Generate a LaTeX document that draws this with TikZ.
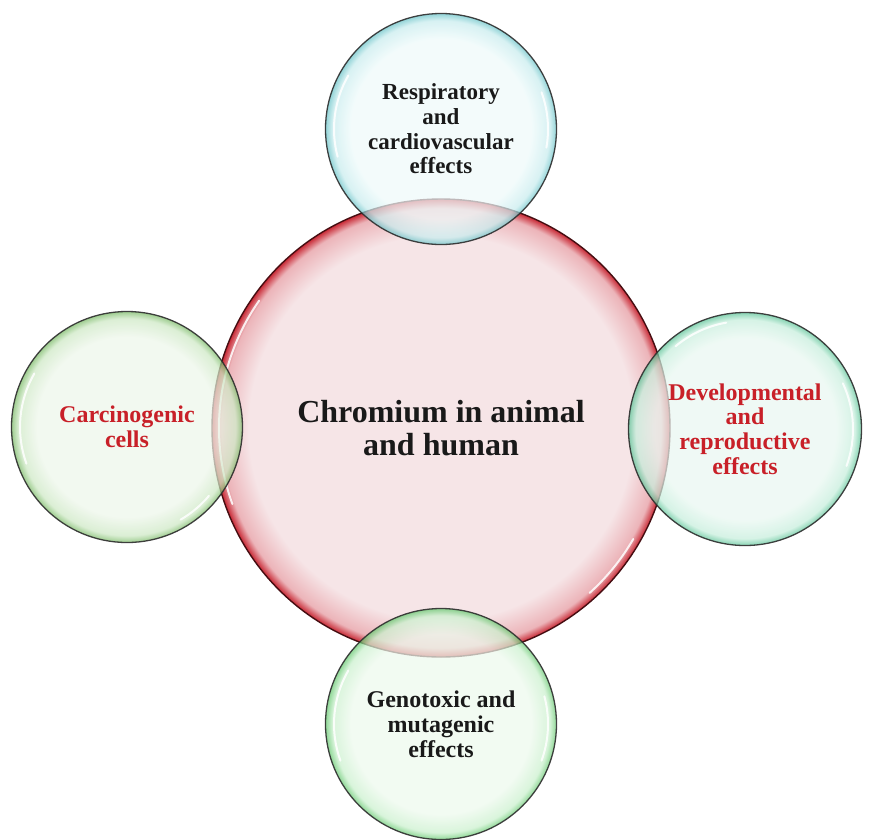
\documentclass[tikz,border=0pt]{standalone}
\usepackage{fontspec}
\setmainfont{Liberation Serif}
\definecolor{rIn}{RGB}{246,229,231}
\definecolor{rMid}{RGB}{236,180,185}
\definecolor{rOut}{RGB}{200,40,52}
\definecolor{cIn}{RGB}{238,250,250}
\definecolor{cMid}{RGB}{200,236,238}
\definecolor{cOut}{RGB}{105,195,200}
\definecolor{gIn}{RGB}{237,246,234}
\definecolor{gMid}{RGB}{205,232,196}
\definecolor{gOut}{RGB}{120,185,100}
\definecolor{mIn}{RGB}{233,247,241}
\definecolor{mMid}{RGB}{198,238,220}
\definecolor{mOut}{RGB}{90,195,150}
\definecolor{bIn}{RGB}{237,249,237}
\definecolor{bMid}{RGB}{202,240,205}
\definecolor{bOut}{RGB}{100,200,110}
\definecolor{txtRed}{RGB}{200,32,40}
\definecolor{txtDark}{RGB}{25,25,25}
\definecolor{edgeDark}{RGB}{45,45,45}
\pgfdeclareradialshading{bubRed}{\pgfpoint{0bp}{0bp}}{color(0bp)=(rIn); color(21bp)=(rIn); color(24bp)=(rMid); color(25bp)=(rOut); color(50bp)=(rOut)}
\pgfdeclareradialshading{bubCyan}{\pgfpoint{0bp}{0bp}}{color(0bp)=(cIn); color(19.5bp)=(cIn); color(23.5bp)=(cMid); color(25bp)=(cOut); color(50bp)=(cOut)}
\pgfdeclareradialshading{bubGreen}{\pgfpoint{0bp}{0bp}}{color(0bp)=(gIn); color(19.5bp)=(gIn); color(23.5bp)=(gMid); color(25bp)=(gOut); color(50bp)=(gOut)}
\pgfdeclareradialshading{bubMint}{\pgfpoint{0bp}{0bp}}{color(0bp)=(mIn); color(19.5bp)=(mIn); color(23.5bp)=(mMid); color(25bp)=(mOut); color(50bp)=(mOut)}
\pgfdeclareradialshading{bubLeaf}{\pgfpoint{0bp}{0bp}}{color(0bp)=(bIn); color(19.5bp)=(bIn); color(23.5bp)=(bMid); color(25bp)=(bOut); color(50bp)=(bOut)}
\begin{document}
\begin{tikzpicture}[x=1pt,y=1pt,
  bigbubble/.style={circle, inner sep=0pt, minimum size=458pt, shading=bubRed,
    draw=rOut!35!black, line width=1.4pt, align=center, text=txtDark,
    font=\fontsize{32}{33.5}\selectfont\bfseries},
  smallbubble/.style={circle, inner sep=0pt, minimum size=231pt, fill opacity=0.72,
    text opacity=1, draw=edgeDark, draw opacity=0.9, line width=1.3pt, align=center,
    font=\fontsize{24}{24.8}\selectfont\bfseries},
  gloss/.style={white, line width=2pt, line cap=round, opacity=0.85}]
\useasboundingbox (0,0) rectangle (876,-839);
\node[bigbubble] (main) at (441,-428) {Chromium in animal\\and human};
\draw[gloss] (main.center) ++(145:222) arc[start angle=145, end angle=200, radius=222];
\draw[gloss] (main.center) ++(-48:222) arc[start angle=-48, end angle=-30, radius=222];
\node[smallbubble, shading=bubCyan, text=txtDark,
  font=\fontsize{23}{24.6}\selectfont\bfseries] (top) at (441,-129)
  {Respiratory\\and\\cardiovascular\\effects};
\node[smallbubble, shading=bubGreen, text=txtRed] (left) at (127,-427)
  {Carcinogenic\\cells};
\node[smallbubble, shading=bubMint, text=txtRed, minimum size=233pt] (right) at (745,-429)
  {Developmental\\and\\reproductive\\effects};
\node[smallbubble, shading=bubLeaf, text=txtDark] (bottom) at (441,-724)
  {Genotoxic and\\mutagenic\\effects};
\draw[gloss] (top.center) ++(150:107) arc[start angle=150, end angle=195, radius=107];
\draw[gloss] (top.center) ++(-10:107) arc[start angle=-10, end angle=20, radius=107];
\draw[gloss] (left.center) ++(150:107) arc[start angle=150, end angle=200, radius=107];
\draw[gloss] (left.center) ++(-60:107) arc[start angle=-60, end angle=-40, radius=107];
\draw[gloss] (right.center) ++(-20:108) arc[start angle=-20, end angle=25, radius=108];
\draw[gloss] (right.center) ++(100:108) arc[start angle=100, end angle=130, radius=108];
\draw[gloss] (bottom.center) ++(150:107) arc[start angle=150, end angle=200, radius=107];
\draw[gloss] (bottom.center) ++(-20:107) arc[start angle=-20, end angle=15, radius=107];
\end{tikzpicture}
\end{document}
